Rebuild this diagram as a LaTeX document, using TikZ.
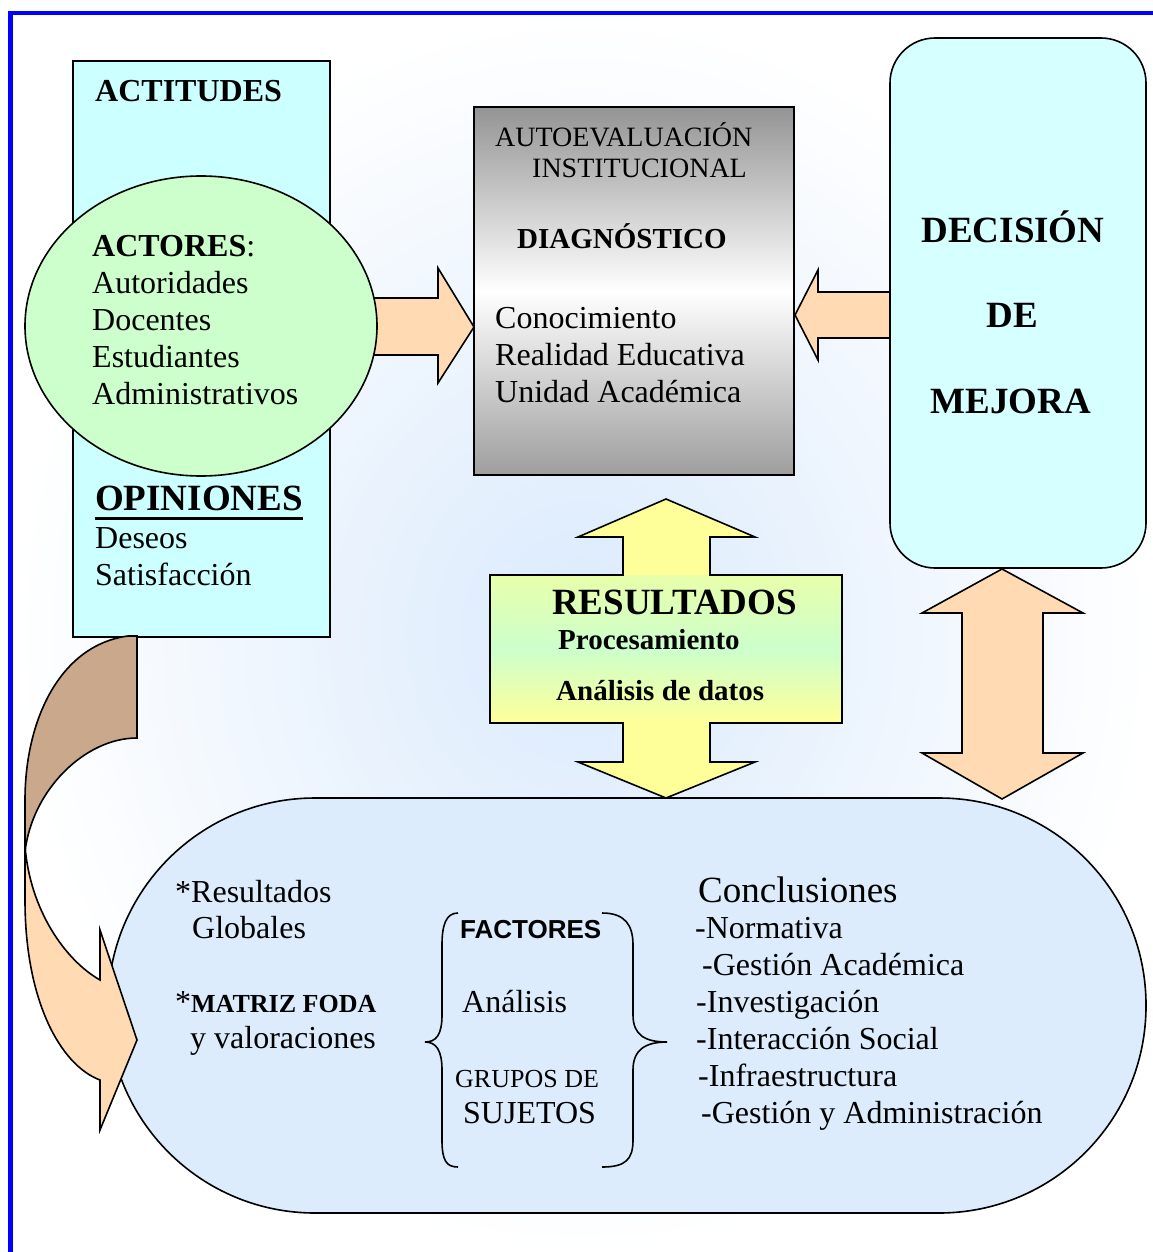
\documentclass[tikz,border=0pt]{standalone}
\usepackage{fontspec}
\setmainfont{Liberation Serif}
\newfontfamily\arialfont{Liberation Sans}
\definecolor{cyanbox}{RGB}{204,255,255}
\definecolor{cyandec}{RGB}{214,255,255}
\definecolor{greenell}{RGB}{204,255,204}
\definecolor{peach}{RGB}{255,218,178}
\definecolor{tanbrown}{RGB}{201,168,139}
\definecolor{stadblue}{RGB}{220,236,253}
\definecolor{bgblue}{RGB}{218,234,252}
\definecolor{lightyellow}{RGB}{255,255,153}
\definecolor{yellowgreen}{RGB}{232,255,170}
\tikzset{
  outline/.style={draw=black, line width=1.6pt, line join=miter},
  txt/.style={inner sep=0pt, anchor=base west, font=\fontsize{32}{37}\selectfont},
  bigtxt/.style={txt, font=\fontsize{37}{42}\selectfont\bfseries},
  midtxt/.style={txt, font=\fontsize{29}{33}\selectfont\bfseries},
}
\begin{document}
\begin{tikzpicture}[x=1pt,y=-1pt]
\useasboundingbox (0,0) rectangle (1153,1252);
\fill[white] (0,0) rectangle (1153,1252);
\shade[inner color=bgblue, outer color=white] (12,14) rectangle (1153,1252);
\draw[blue, line width=4.5pt] (10.5,1252) -- (10.5,13) -- (1153,13);
% actitudes column and actores ellipse
\draw[outline, fill=cyanbox] (73,61) rectangle (330,637);
\draw[outline, fill=peach] (340,298) -- (438,298) -- (438,268) -- (474,327) -- (438,383) -- (438,355) -- (340,355) -- cycle;
\draw[outline, fill=greenell] (201,326) ellipse [x radius=176, y radius=150];
% diagnostico box
\shade[top color=black!42, bottom color=black!38, middle color=white] (474,107) rectangle (794,475);
\draw[outline] (474,107) rectangle (794,475);
% decision box
\draw[outline, fill=peach] (900,292) -- (818,292) -- (818,270) -- (795,315) -- (818,360) -- (818,338) -- (900,338) -- cycle;
\draw[outline, fill=cyandec, rounded corners=45pt] (890,38) rectangle (1146,568);
% conclusiones
\draw[outline, fill=stadblue, rounded corners=207pt] (108,798) rectangle (1146,1213);
% curved arrow
\draw[outline, fill=tanbrown] (137,636) -- (137,738) .. controls (85,738) and (32,790) .. (25,852) -- (25,800) .. controls (25,720) and (60,645) .. (128,636) -- cycle;
\draw[outline, fill=peach] (25,846) -- (25,900) .. controls (25,1000) and (60,1065) .. (100,1080) -- (100,1130) -- (137,1040) -- (100,930) -- (100,980) .. controls (65,960) and (30,910) .. (25,846) -- cycle;
% resultados
\fill[lightyellow] (666,499) -- (578,537) -- (623,537) -- (623,575) -- (490,575) -- (490,723) -- (623,723) -- (623,762) -- (578,762) -- (666,798) -- (755,762) -- (710,762) -- (710,723) -- (842,723) -- (842,575) -- (710,575) -- (710,537) -- (755,537) -- cycle;
\shade[top color=yellowgreen, bottom color=lightyellow, middle color=greenell] (490,575) rectangle (842,723);
\draw[outline] (666,499) -- (578,537) -- (623,537) -- (623,575) -- (490,575) -- (490,723) -- (623,723) -- (623,762) -- (578,762) -- (666,798) -- (755,762) -- (710,762) -- (710,723) -- (842,723) -- (842,575) -- (710,575) -- (710,537) -- (755,537) -- cycle;
% double arrow on the right
\draw[outline, fill=peach] (1002,569) -- (922,613) -- (962,613) -- (962,753) -- (922,753) -- (1002,799) -- (1083,753) -- (1043,753) -- (1043,613) -- (1083,613) -- cycle;
% texts left
\node[txt, font=\fontsize{32}{37}\selectfont\bfseries] (actitudes) at (95,102) {ACTITUDES};
\node[txt] (actores) at (92,256) {\textbf{ACTORES}:};
\foreach \w [count=\i] in {Autoridades,Docentes,Estudiantes,Administrativos}
  \node[txt] (actor\i) at (92,256+37*\i) {\w};
\node[bigtxt] (opiniones) at (95,510) {OPINIONES};
\draw[line width=3pt] ([yshift=-8pt]opiniones.base west) -- ([yshift=-8pt]opiniones.base east);
\node[txt] (deseos) at (95,548) {Deseos};
\node[txt] (satisf) at (95,585) {Satisfacción};
% texts diagnostico
\node[txt, font=\fontsize{28}{32}\selectfont] (autoeval) at (495,147) {AUTOEVALUACIÓN};
\node[txt, font=\fontsize{28}{32}\selectfont] (instit) at (532,178) {INSTITUCIONAL};
\node[midtxt] (diag) at (517,248) {DIAGNÓSTICO};
\node[txt] (conoc) at (495,328) {Conocimiento};
\node[txt] (realidad) at (495,365) {Realidad Educativa};
\node[txt] (unidad) at (495,402) {Unidad Académica};
% texts decision
\node[bigtxt, anchor=base] (decision) at (1013,242) {DECISIÓN};
\node[bigtxt, anchor=base] (de) at (1012,327) {DE};
\node[bigtxt, anchor=base] (mejora) at (1011,413) {MEJORA};
% texts resultados
\node[bigtxt] (resultados) at (552,614) {RESULTADOS};
\node[midtxt] (proces) at (558,649) {Procesamiento};
\node[midtxt] (analdatos) at (556,700) {Análisis de datos};
% texts conclusiones
\node[txt] (resglob) at (175,902) {*Resultados};
\node[txt] (globales) at (192,938) {Globales};
\node[txt] (matriz) at (175,1012) {*{\fontsize{26}{30}\selectfont\bfseries MATRIZ FODA}};
\node[txt] (valor) at (190,1048) {y valoraciones};
\node[txt, font=\fontsize{26}{30}\selectfont\arialfont\bfseries] (factores) at (460,938) {FACTORES};
\node[txt] (analisis) at (462,1012) {Análisis};
\node[txt, font=\fontsize{26}{30}\selectfont] (grupos) at (455,1087) {GRUPOS DE};
\node[txt] (sujetos) at (463,1123) {SUJETOS};
\node[txt, font=\fontsize{37}{42}\selectfont] (conclusiones) at (698,902) {Conclusiones};
\foreach \w/\x [count=\i] in {-Normativa/695,-Gestión Académica/702,-Investigación/696,-Interacción Social/696,-Infraestructura/698,-Gestión y Administración/701}
  \node[txt] (concl\i) at (\x,901+37*\i) {\w};
% braces
\draw[line width=1.6pt] (458,913) .. controls (446,913) and (442,925) .. (442,945) -- (442,1015) .. controls (442,1035) and (436,1042) .. (425,1042) .. controls (436,1042) and (442,1050) .. (442,1070) -- (442,1140) .. controls (442,1160) and (446,1167) .. (458,1167);
\draw[line width=1.6pt] (602,913) .. controls (625,913) and (633,925) .. (633,945) -- (633,1015) .. controls (633,1035) and (645,1042) .. (667,1042) .. controls (645,1042) and (633,1050) .. (633,1070) -- (633,1140) .. controls (633,1160) and (625,1167) .. (602,1167);
\end{tikzpicture}
\end{document}
